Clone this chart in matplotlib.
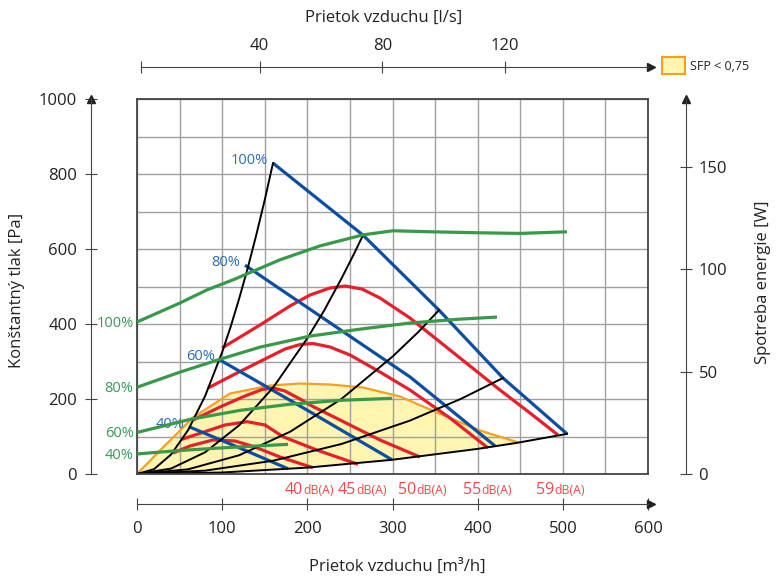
import numpy as np
import matplotlib
matplotlib.use("Agg")
import matplotlib.pyplot as plt
from matplotlib.patches import Rectangle

plt.rcParams["font.family"] = ["Open Sans", "DejaVu Sans"]

# --- data (airflow in m3/h, pressure in Pa, power in W) ---
# black system curves
sys1_x = [0, 20, 40, 60, 80, 100, 110, 120, 130, 140, 150, 159.7]
sys1_y = [0, 13, 52, 117, 208, 325, 393, 468, 549, 637, 731, 829]
sys2_x = [0, 40, 80, 120, 160, 200, 220, 240, 255, 265.4]
sys2_y = [0, 14.5, 58, 130, 231, 362, 437, 521, 588, 637]
sys3_x = [0, 60, 120, 180, 240, 300, 330, 354.6]
sys3_y = [0, 12.5, 50, 113, 200, 313, 378, 437]
sys4_x = [0, 80, 160, 240, 320, 380, 429.7]
sys4_y = [0, 9, 35.5, 80, 142, 200, 256]
sys5_x = [0, 100, 200, 300, 400, 446, 504.9]
sys5_y = [0, 4, 17, 38, 67, 83, 107]

# blue fan speed curves
fan_labels = ["100%", "80%", "60%", "40%"]
fan100_x = [159.7, 265.4, 354.6, 429.7, 504.9]
fan100_y = [829, 637, 437, 256, 107]
fan80_x = [126.8, 152.6, 320.5, 420.3]
fan80_y = [557, 517, 259, 75]
fan60_x = [97.5, 200, 299.4]
fan60_y = [304, 170, 38]
fan40_x = [62.2, 120, 177.3]
fan40_y = [125, 70, 14]

# red sound level curves
snd_labels = ["40", "45", "50", "55", "59"]
snd40_x = [42.3, 62.2, 89.2, 115.1, 138.5, 167.9, 206.6]
snd40_y = [56, 74.7, 90.7, 88, 72, 45.3, 16.8]
snd45_x = [52.5, 74, 103.3, 129.2, 150.3, 171.4, 211, 259.5]
snd45_y = [92.5, 108.5, 130.7, 139.5, 130.7, 99.5, 64, 25.9]
snd50_x = [65.8, 97.5, 126.8, 146.8, 159.7, 173.8, 191.4, 203.1, 238.4, 285.3, 332.3]
snd50_y = [144, 178.7, 208, 225.3, 229.3, 221.3, 200, 184, 144, 90.7, 45.3]
snd55_x = [83.4, 115.1, 147.9, 173.8, 191.4, 206.6, 226.6, 250.1, 285.3, 320.5, 367.5, 412.1]
snd55_y = [229.3, 266.7, 304, 333.3, 345.3, 348, 338.7, 317.3, 272, 224, 149.3, 69.3]
snd59_x = [99.8, 144.4, 179.6, 203.1, 226.6, 244.2, 264.2, 285.3, 320.5, 355.8, 391.0, 426.2, 461.4, 494.3]
snd59_y = [336, 397.3, 448, 477.3, 496, 501.3, 493.3, 469.3, 416, 352, 288, 224, 162.7, 104]

# SFP < 0,75 boundary
sfp_x = [0, 30.5, 65.8, 109.2, 156.2, 191.4, 226.6, 265.4, 308.8, 352.2, 402.7, 446.2]
sfp_y = [0, 70.7, 150.7, 214.7, 236, 241.3, 238.7, 230.7, 206.7, 164, 116, 85.3]

# green power curves (W)
pow100_x = [0, 50.5, 82.2, 112.7, 167.9, 214.9, 265.4, 300.6, 344.1, 402.7, 449.7, 504.9]
pow100_y = [74.3, 83.6, 90.0, 94.9, 104.7, 111.5, 116.9, 118.9, 118.4, 117.9, 117.6, 118.4]
pow80_x = [0, 50.5, 97.5, 144.4, 203.1, 261.8, 320.5, 379.2, 422.7]
pow80_y = [42.4, 49.8, 56.1, 62.0, 67.4, 70.8, 73.8, 75.7, 76.7]
pow60_x = [0, 62.2, 120.9, 179.6, 238.4, 299.4]
pow60_y = [20.3, 26.7, 31.1, 34.1, 36.0, 37.0]
pow40_x = [0, 50.5, 109.2, 177.3]
pow40_y = [9.8, 11.5, 13.0, 14.5]

m3h_ticks = [0, 100, 200, 300, 400, 500, 600]
ls_ticks = [40, 80, 120]
pa_ticks = [0, 200, 400, 600, 800, 1000]
w_ticks = [0, 50, 100, 150]

# horizontal nudge (px) of each dB(A) label from the end of its curve
snd_label_shift = [-10, -2, -4, -7, -4]

BLUE = "#0b4ea2"
BLUE_TXT = "#2a6bb8"
RED = "#e5202a"
RED_TXT = "#f04a4a"
GREEN = "#389a48"
GREEN_TXT = "#35995a"
ORANGE = "#f5a024"
YELLOW = "#fff4b0"
AXIS = "#444444"
TXT = "#222222"

W, H = 776, 579
PT = 72 / 100  # points per pixel


def fx(px):
    return px / W


def fy(py):
    return 1 - py / H


def side_axis(rect):
    a = fig.add_axes(rect)
    a.patch.set_visible(False)
    for s in a.spines.values():
        s.set_visible(False)
    return a


fig = plt.figure(figsize=(W / 100, H / 100), dpi=100)

L, R, T, B = 137, 648, 99, 474
ax = fig.add_axes([fx(L), fy(B), (R - L) / W, (B - T) / H])
ax.set_xlim(0, 600)
ax.set_ylim(0, 1000)
ax.set_xticks(np.arange(0, 601, 50))
ax.set_yticks(np.arange(0, 1001, 100))
ax.tick_params(length=0, labelbottom=False, labelleft=False)
ax.grid(color="#a0a0a0", lw=1.0)
ax.set_axisbelow(True)
for s in ax.spines.values():
    s.set_color(AXIS)
    s.set_linewidth(1.3)
    s.set_zorder(10)

# yellow SFP area between boundary and lowest system curve
bx = [x for x in sys5_x if x <= sfp_x[-1]]
by = [y for x, y in zip(sys5_x, sys5_y) if x <= sfp_x[-1]]
ax.fill(sfp_x + bx[::-1], sfp_y + by[::-1], color=YELLOW, zorder=0.5, lw=0)
ax.plot(sfp_x, sfp_y, color=ORANGE, lw=1.6, zorder=2)

for xs, ys, lab, dx in zip([snd40_x, snd45_x, snd50_x, snd55_x, snd59_x],
                           [snd40_y, snd45_y, snd50_y, snd55_y, snd59_y],
                           snd_labels, snd_label_shift):
    ax.plot(xs, ys, color=RED, lw=2.3, zorder=3, solid_capstyle="butt")
    ax.annotate(lab, xy=(xs[-1], 0), xycoords=("data", "axes fraction"),
                xytext=(dx * PT, -14.4), textcoords="offset points", ha="right",
                va="baseline", color=RED_TXT, fontsize=11.5, annotation_clip=False)
    ax.annotate("dB(A)", xy=(xs[-1], 0), xycoords=("data", "axes fraction"),
                xytext=(dx * PT, -14.4), textcoords="offset points", ha="left",
                va="baseline", color=RED_TXT, fontsize=8.8, annotation_clip=False)

for xs, ys, lab in zip([fan100_x, fan80_x, fan60_x, fan40_x],
                       [fan100_y, fan80_y, fan60_y, fan40_y], fan_labels):
    ax.plot(xs, ys, color=BLUE, lw=2.3, zorder=4, solid_capstyle="butt")
    ax.annotate(lab, xy=(xs[0], ys[0]), xytext=(-3.6, 2.2), textcoords="offset points",
                ha="right", va="center", color=BLUE_TXT, fontsize=10.5)

for xs, ys in zip([sys1_x, sys2_x, sys3_x, sys4_x, sys5_x],
                  [sys1_y, sys2_y, sys3_y, sys4_y, sys5_y]):
    ax.plot(xs, ys, color="black", lw=1.4, zorder=5)

# power curves on the W scale
axw = ax.twinx()
axw.set_ylim(0, 183.3)
axw.axis("off")
for xs, ys, lab in zip([pow100_x, pow80_x, pow60_x, pow40_x],
                       [pow100_y, pow80_y, pow60_y, pow40_y], fan_labels):
    axw.plot(xs, ys, color=GREEN, lw=2.3, zorder=6, solid_capstyle="butt")
    axw.annotate(lab, xy=(xs[0], ys[0]), xytext=(-2.5, -1), textcoords="offset points",
                 ha="right", va="center", color=GREEN_TXT, fontsize=10.5,
                 annotation_clip=False)

# left pressure axis
axl = side_axis([fx(91), fy(B), 0.0001, (B - T) / H])
axl.set_ylim(0, 1000)
axl.spines["left"].set_visible(True)
axl.spines["left"].set_color(AXIS)
axl.set_xticks([])
axl.set_yticks(pa_ticks)
axl.tick_params(axis="y", direction="inout", length=8, color=AXIS, labelcolor=TXT,
                labelsize=12, pad=6)
axl.plot([0], [1.0], marker="^", ms=6, color=TXT, transform=axl.transAxes, clip_on=False)

# right power axis
axr = side_axis([fx(686), fy(B), 0.0001, (B - T) / H])
axr.set_ylim(0, 183.3)
axr.spines["right"].set_visible(True)
axr.spines["right"].set_color(AXIS)
axr.set_xticks([])
axr.yaxis.tick_right()
axr.set_yticks(w_ticks)
axr.tick_params(axis="y", direction="inout", length=8, color=AXIS, labelcolor=TXT,
                labelsize=12, pad=5)
axr.plot([1], [1.0], marker="^", ms=6, color=TXT, transform=axr.transAxes, clip_on=False)

# bottom m3/h axis
axb = side_axis([fx(L), fy(504), (R - L) / W, 0.0001])
axb.set_xlim(0, 600)
axb.spines["bottom"].set_visible(True)
axb.spines["bottom"].set_color(AXIS)
axb.set_yticks([])
axb.set_xticks(m3h_ticks)
axb.tick_params(axis="x", direction="inout", length=8, color=AXIS, labelcolor=TXT,
                labelsize=12, pad=8)
axb.plot([0.998, 1.005], [0, 0], color=AXIS, lw=0.8, transform=axb.transAxes, clip_on=False)
axb.plot([1.005], [0], marker=">", ms=6, color=TXT, transform=axb.transAxes, clip_on=False)

# top l/s axis
axt = side_axis([fx(L), fy(67), (R - L) / W, 0.0001])
axt.set_xlim(0, 600 / 3.6)
axt.spines["top"].set_visible(True)
axt.spines["top"].set_color(AXIS)
axt.spines["top"].set_bounds(1.3, 600 / 3.6)
axt.set_yticks([])
axt.xaxis.tick_top()
axt.set_xticks([1.3] + ls_ticks)
axt.set_xticklabels([""] + [str(t) for t in ls_ticks])
axt.tick_params(axis="x", direction="inout", length=8, color=AXIS, labelcolor=TXT,
                labelsize=12, pad=5)
axt.plot([1.0, 1.005], [1, 1], color=AXIS, lw=0.8, transform=axt.transAxes, clip_on=False)
axt.plot([1.005], [1], marker=">", ms=6, color=TXT, transform=axt.transAxes, clip_on=False)

# axis titles
fig.text(fx(17), fy(290), "Konštantný tlak [Pa]", rotation=90, ha="center", va="center",
         fontsize=12, color=TXT)
fig.text(fx(763), fy(282), "Spotreba energie [W]", rotation=90, ha="center", va="center",
         fontsize=12, color=TXT)
fig.text(fx(397), fy(567), "Prietok vzduchu [m³/h]", ha="center", va="center",
         fontsize=12, color=TXT)
fig.text(fx(384), fy(18), "Prietok vzduchu [l/s]", ha="center", va="center",
         fontsize=12, color=TXT)

# legend
fig.add_artist(Rectangle((fx(662), fy(74)), 23 / W, 17 / H, transform=fig.transFigure,
                         facecolor=YELLOW, edgecolor=ORANGE, lw=1.5))
fig.text(fx(690), fy(66), "SFP < 0,75", ha="left", va="center", fontsize=9, color=TXT)

fig.savefig("out.png", dpi=100)
